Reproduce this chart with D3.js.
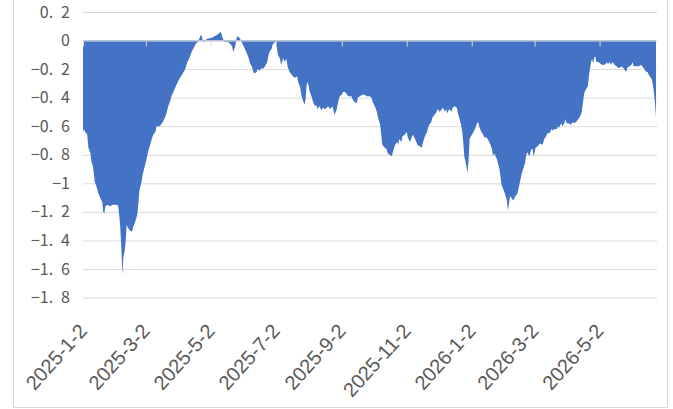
<!DOCTYPE html>
<html>
<head>
<meta charset="utf-8">
<script src="https://cdn.jsdelivr.net/npm/d3@7"></script>
<style>
  html, body { margin: 0; padding: 0; background: #fff; }
  svg { display: block; }
</style>
</head>
<body>
<div id="chart"></div>
<script>
// Daily series
const dates = [
  "2025-01-02","2025-01-03","2025-01-04","2025-01-06","2025-01-07","2025-01-09","2025-01-10","2025-01-11","2025-01-12","2025-01-13",
  "2025-01-15","2025-01-16","2025-01-18","2025-01-20","2025-01-21","2025-01-22","2025-01-23","2025-01-25","2025-01-27","2025-01-30",
  "2025-02-03","2025-02-04","2025-02-05","2025-02-06","2025-02-07","2025-02-08","2025-02-09","2025-02-10","2025-02-11","2025-02-12",
  "2025-02-13","2025-02-15","2025-02-17","2025-02-18","2025-02-20","2025-02-22","2025-02-23","2025-02-24","2025-02-26","2025-02-27",
  "2025-03-01","2025-03-03","2025-03-04","2025-03-06","2025-03-08","2025-03-09","2025-03-11","2025-03-12","2025-03-15","2025-03-18",
  "2025-03-21","2025-03-23","2025-03-25","2025-03-26","2025-03-29","2025-04-01","2025-04-03","2025-04-05","2025-04-08","2025-04-10",
  "2025-04-12","2025-04-14","2025-04-16","2025-04-18","2025-04-20","2025-04-22","2025-04-23","2025-04-25","2025-04-26","2025-04-28",
  "2025-05-03","2025-05-08","2025-05-11","2025-05-12","2025-05-13","2025-05-15","2025-05-17","2025-05-18","2025-05-20","2025-05-22",
  "2025-05-23","2025-05-25","2025-05-26","2025-05-27","2025-05-29","2025-05-31","2025-06-03","2025-06-06","2025-06-08","2025-06-10",
  "2025-06-11","2025-06-12","2025-06-14","2025-06-15","2025-06-17","2025-06-19","2025-06-20","2025-06-22","2025-06-24","2025-06-25",
  "2025-06-26","2025-06-28","2025-06-29","2025-07-01","2025-07-02","2025-07-03","2025-07-04","2025-07-06","2025-07-07","2025-07-08",
  "2025-07-09","2025-07-10","2025-07-12","2025-07-13","2025-07-15","2025-07-17","2025-07-18","2025-07-20","2025-07-22","2025-07-23",
  "2025-07-25","2025-07-26","2025-07-27","2025-07-29","2025-07-30","2025-07-31","2025-08-01","2025-08-03","2025-08-05","2025-08-06",
  "2025-08-08","2025-08-09","2025-08-10","2025-08-12","2025-08-14","2025-08-15","2025-08-17","2025-08-19","2025-08-20","2025-08-22",
  "2025-08-24","2025-08-25","2025-08-26","2025-08-28","2025-08-29","2025-08-31","2025-09-02","2025-09-03","2025-09-05","2025-09-07",
  "2025-09-08","2025-09-11","2025-09-12","2025-09-14","2025-09-16","2025-09-17","2025-09-19","2025-09-21","2025-09-24","2025-09-25",
  "2025-09-26","2025-09-28","2025-09-30","2025-10-01","2025-10-03","2025-10-05","2025-10-06","2025-10-08","2025-10-09","2025-10-10",
  "2025-10-12","2025-10-14","2025-10-15","2025-10-17","2025-10-19","2025-10-20","2025-10-22","2025-10-24","2025-10-25","2025-10-26",
  "2025-10-28","2025-10-29","2025-10-31","2025-11-02","2025-11-03","2025-11-05","2025-11-07","2025-11-08","2025-11-09","2025-11-11",
  "2025-11-12","2025-11-14","2025-11-16","2025-11-17","2025-11-19","2025-11-21","2025-11-22","2025-11-23","2025-11-25","2025-11-26",
  "2025-11-28","2025-11-30","2025-12-01","2025-12-03","2025-12-05","2025-12-06","2025-12-08","2025-12-09","2025-12-10","2025-12-12",
  "2025-12-14","2025-12-15","2025-12-17","2025-12-19","2025-12-20","2025-12-22","2025-12-24","2025-12-25","2025-12-26","2025-12-28",
  "2025-12-29","2025-12-30","2025-12-31","2026-01-02","2026-01-03","2026-01-05","2026-01-07","2026-01-08","2026-01-09","2026-01-11",
  "2026-01-12","2026-01-14","2026-01-16","2026-01-17","2026-01-19","2026-01-21","2026-01-22","2026-01-23","2026-01-25","2026-01-26",
  "2026-01-28","2026-01-30","2026-01-31","2026-02-02","2026-02-04","2026-02-05","2026-02-06","2026-02-07","2026-02-08","2026-02-10",
  "2026-02-12","2026-02-14","2026-02-16","2026-02-18","2026-02-21","2026-02-22","2026-02-23","2026-02-25","2026-02-27","2026-02-28",
  "2026-03-01","2026-03-03","2026-03-05","2026-03-07","2026-03-09","2026-03-10","2026-03-11","2026-03-13","2026-03-14","2026-03-16",
  "2026-03-18","2026-03-19","2026-03-21","2026-03-23","2026-03-24","2026-03-25","2026-03-27","2026-03-28","2026-03-30","2026-03-31",
  "2026-04-01","2026-04-03","2026-04-05","2026-04-07","2026-04-08","2026-04-10","2026-04-11","2026-04-13","2026-04-15","2026-04-16",
  "2026-04-17","2026-04-18","2026-04-20","2026-04-21","2026-04-22","2026-04-23","2026-04-24","2026-04-25","2026-04-26","2026-04-27",
  "2026-04-28","2026-04-29","2026-05-01","2026-05-04","2026-05-07","2026-05-09","2026-05-10","2026-05-11","2026-05-13","2026-05-14",
  "2026-05-16","2026-05-18","2026-05-19","2026-05-21","2026-05-23","2026-05-24","2026-05-25","2026-05-27","2026-05-28","2026-05-30",
  "2026-06-01","2026-06-02","2026-06-03","2026-06-06","2026-06-08","2026-06-10","2026-06-11","2026-06-13","2026-06-15","2026-06-16",
  "2026-06-18","2026-06-20","2026-06-21","2026-06-22","2026-06-23","2026-06-24"
];

const values = [
  -0.64,-0.62,-0.64,-0.66,-0.75,-0.79,-0.85,-0.87,-0.92,-0.99,
  -1.03,-1.06,-1.10,-1.13,-1.20,-1.21,-1.16,-1.15,-1.16,-1.15,
  -1.15,-1.16,-1.22,-1.31,-1.45,-1.64,-1.51,-1.48,-1.41,-1.29,
  -1.31,-1.33,-1.34,-1.31,-1.27,-1.22,-1.14,-1.05,-0.99,-0.94,
  -0.88,-0.82,-0.78,-0.73,-0.68,-0.66,-0.64,-0.60,-0.60,-0.57,
  -0.52,-0.46,-0.42,-0.39,-0.34,-0.29,-0.26,-0.24,-0.20,-0.15,
  -0.12,-0.08,-0.05,-0.02,-0.01,0.03,0.04,-0.01,-0.01,0.01,
  0.02,0.04,0.06,0.05,0.02,-0.01,-0.01,-0.01,-0.02,-0.04,
  -0.08,-0.04,0.01,0.03,0.02,-0.01,-0.06,-0.11,-0.16,-0.19,
  -0.22,-0.23,-0.22,-0.20,-0.21,-0.19,-0.20,-0.18,-0.15,-0.11,
  -0.08,-0.06,-0.03,-0.01,-0.01,-0.05,-0.10,-0.13,-0.17,-0.15,
  -0.12,-0.15,-0.13,-0.18,-0.22,-0.24,-0.25,-0.26,-0.25,-0.29,
  -0.33,-0.38,-0.41,-0.45,-0.41,-0.31,-0.29,-0.36,-0.40,-0.43,
  -0.46,-0.45,-0.48,-0.46,-0.49,-0.47,-0.48,-0.47,-0.46,-0.48,
  -0.46,-0.48,-0.52,-0.49,-0.45,-0.39,-0.38,-0.36,-0.36,-0.38,
  -0.39,-0.39,-0.41,-0.43,-0.44,-0.40,-0.39,-0.38,-0.38,-0.39,
  -0.39,-0.39,-0.40,-0.43,-0.46,-0.50,-0.54,-0.59,-0.66,-0.73,
  -0.75,-0.76,-0.79,-0.80,-0.81,-0.78,-0.73,-0.71,-0.73,-0.69,
  -0.71,-0.67,-0.66,-0.64,-0.68,-0.71,-0.67,-0.66,-0.68,-0.71,
  -0.73,-0.74,-0.75,-0.72,-0.67,-0.64,-0.61,-0.59,-0.57,-0.54,
  -0.52,-0.50,-0.48,-0.50,-0.48,-0.47,-0.50,-0.48,-0.51,-0.48,
  -0.50,-0.47,-0.46,-0.47,-0.51,-0.56,-0.63,-0.71,-0.81,-0.88,
  -0.93,-0.84,-0.69,-0.66,-0.65,-0.62,-0.58,-0.57,-0.60,-0.64,
  -0.65,-0.68,-0.68,-0.69,-0.72,-0.76,-0.81,-0.79,-0.82,-0.84,
  -0.90,-1.01,-1.03,-1.07,-1.12,-1.19,-1.14,-1.09,-1.10,-1.12,
  -1.09,-1.07,-1.00,-0.93,-0.86,-0.81,-0.78,-0.81,-0.76,-0.76,
  -0.81,-0.75,-0.74,-0.72,-0.73,-0.72,-0.69,-0.67,-0.65,-0.65,
  -0.62,-0.63,-0.62,-0.62,-0.60,-0.61,-0.58,-0.60,-0.58,-0.55,
  -0.58,-0.58,-0.59,-0.57,-0.58,-0.57,-0.56,-0.54,-0.51,-0.46,
  -0.40,-0.36,-0.33,-0.32,-0.25,-0.20,-0.15,-0.13,-0.16,-0.12,
  -0.11,-0.15,-0.15,-0.17,-0.17,-0.15,-0.17,-0.15,-0.17,-0.15,
  -0.17,-0.18,-0.19,-0.19,-0.18,-0.19,-0.20,-0.22,-0.19,-0.18,
  -0.17,-0.15,-0.18,-0.18,-0.18,-0.17,-0.18,-0.20,-0.22,-0.22,
  -0.25,-0.27,-0.31,-0.36,-0.43,-0.54
];

// Axis ticks
const yTicks = [0.2, 0, -0.2, -0.4, -0.6, -0.8, -1, -1.2, -1.4, -1.6, -1.8];
const xTickDates = ["2025-01-02","2025-03-02","2025-05-02","2025-07-02","2025-09-02","2025-11-02","2026-01-02","2026-03-02","2026-05-02"];
const xTickLabels = ["2025-1-2","2025-3-2","2025-5-2","2025-7-2","2025-9-2","2025-11-2","2026-1-2","2026-3-2","2026-5-2"];

const W = 673, H = 409;
const margin = { top: 12, right: 17, bottom: 111.5, left: 83 };
const width = W - margin.left - margin.right;
const height = H - margin.top - margin.bottom;

const parse = d3.timeParse("%Y-%m-%d");
const data = dates.map((d, i) => ({ date: parse(d), value: values[i] }));

const svg = d3.select("#chart")
  .append("svg")
  .attr("width", W)
  .attr("height", H);

// outer chart frame (top edge is cropped off in the reference)
svg.append("rect")
  .attr("x", 13.5)
  .attr("y", -2)
  .attr("width", 654)
  .attr("height", 409.5)
  .attr("fill", "none")
  .attr("stroke", "#d9d9d9");

const g = svg.append("g")
  .attr("transform", `translate(${margin.left}, ${margin.top})`);

// Scales
const x = d3.scaleTime()
  .domain(d3.extent(data, d => d.date))
  .range([0, width]);

const y = d3.scaleLinear()
  .domain([-1.8, 0.2])
  .range([height, 0]);

// Gridlines
const grid = g.append("g")
  .call(d3.axisLeft(y)
    .tickValues(yTicks)
    .tickSize(-width - 1)
    .tickFormat("")
  );
grid.select(".domain").remove();
grid.selectAll("line")
  .attr("stroke", "#d9d9d9")
  .attr("stroke-width", 1);

// Y labels, wide gap after the decimal point as in the reference
const fmt = v => d3.format(".1~f")(v).replace(".", ".\u2002");
g.selectAll(".ylab")
  .data(yTicks)
  .enter()
  .append("text")
  .attr("class", "ylab")
  .attr("x", -13)
  .attr("y", d => y(d))
  .attr("dy", "0.35em")
  .attr("text-anchor", "end")
  .style("font-family", "'Noto Sans CJK SC', 'Noto Sans', sans-serif")
  .style("font-size", "16px")
  .style("fill", "#595959")
  .text(fmt);

// Area
const area = d3.area()
  .x(d => x(d.date))
  .y0(y(0))
  .y1(d => y(d.value));

g.append("path")
  .datum(data)
  .attr("fill", "#4472c4")
  .attr("d", area);

// X axis on the zero line, ticks pointing down
const xAxis = g.append("g")
  .attr("transform", `translate(0, ${y(0)})`)
  .call(d3.axisBottom(x)
    .tickValues(xTickDates.map(parse))
    .tickSize(6)
    .tickSizeOuter(0)
    .tickFormat("")
  );
xAxis.select(".domain").attr("stroke", "#d9d9d9").attr("d", `M0,0.5H${width + 1}`);
xAxis.selectAll("line").attr("stroke", "#d9d9d9");

// Rotated date labels below the plot
g.selectAll(".xlab")
  .data(xTickDates)
  .enter()
  .append("text")
  .attr("class", "xlab")
  .attr("transform", d => `translate(${x(parse(d))}, ${327 - margin.top}) rotate(-48)`)
  .attr("dy", "0.35em")
  .attr("text-anchor", "end")
  .style("font-family", "'Liberation Sans', Arial, sans-serif")
  .style("font-size", "20px")
  .style("fill", "#595959")
  .text((d, i) => xTickLabels[i]);
</script>
</body>
</html>
